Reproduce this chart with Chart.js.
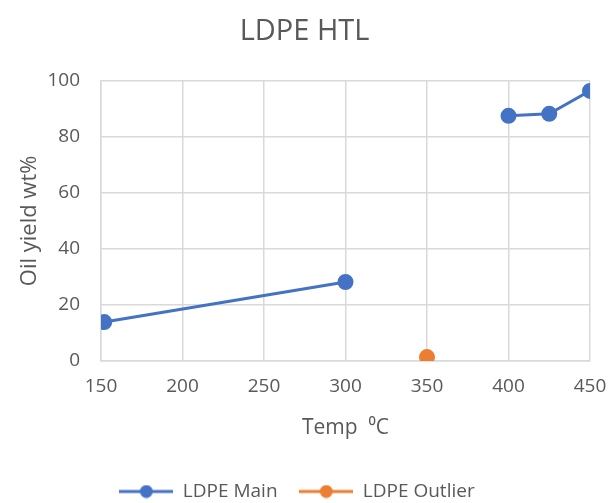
<!DOCTYPE html>
<html>
<head>
<meta charset="utf-8">
<script src="https://cdn.jsdelivr.net/npm/chart.js@4.4.1/dist/chart.umd.min.js"></script>
<style>
    html, body { margin: 0; padding: 0; background: #fff; }
    #wrap { width: 609px; height: 503px; position: relative; }
</style>
</head>
<body>
<div id="wrap"><canvas id="htlChart"></canvas></div>
<script>
// Data
const mainTemp = [152, 300, 350, 400, 425, 450];
const mainYield = [13.9, 28.2, null, 87.5, 88.2, 96.4];
const outlierTemp = [350];
const outlierYield = [1.4];

const xTicks = [150, 200, 250, 300, 350, 400, 450];
const yTicks = [0, 20, 40, 60, 80, 100];

const BLUE = '#4472C4';
const ORANGE = '#ED7D31';
const TEXT = '#595959';
const GRID = '#d9d9d9';
const FONT = "'Open Sans', sans-serif";

// legend swatch: line with a dot in the middle (like Excel)
function legendSwatch(color) {
    const c = document.createElement('canvas');
    c.width = 54; c.height = 14;
    const g = c.getContext('2d');
    g.strokeStyle = color;
    g.lineWidth = 3;
    g.beginPath();
    g.moveTo(0, 7);
    g.lineTo(54, 7);
    g.stroke();
    g.fillStyle = color;
    g.beginPath();
    g.arc(27, 7, 6.5, 0, Math.PI * 2);
    g.fill();
    return c;
}
const swatches = [legendSwatch(BLUE), legendSwatch(ORANGE)];

const toPoints = (xs, ys) => xs.map((x, i) => ({ x: x, y: ys[i] }));

const ctx = document.getElementById('htlChart').getContext('2d');
const htlChart = new Chart(ctx, {
    type: 'line',
    data: {
        datasets: [
            {
                label: 'LDPE Main',
                data: toPoints(mainTemp, mainYield),
                borderColor: BLUE,
                backgroundColor: BLUE,
                borderWidth: 3,
                pointRadius: 6.5,
                pointHoverRadius: 6.5,
                pointStyle: 'circle',
                spanGaps: false
            },
            {
                label: 'LDPE Outlier',
                data: toPoints(outlierTemp, outlierYield),
                borderColor: ORANGE,
                backgroundColor: ORANGE,
                borderWidth: 3,
                pointRadius: 6.5,
                pointHoverRadius: 6.5,
                pointStyle: 'circle'
            }
        ]
    },
    options: {
        responsive: true,
        maintainAspectRatio: false,
        animation: false,
        layout: { padding: { left: 4, right: 19, top: 10, bottom: -8 } },
        plugins: {
            title: {
                display: true,
                text: '  LDPE HTL',
                color: TEXT,
                font: { family: FONT, size: 29, weight: 'normal' },
                padding: { top: 4, bottom: 32 }
            },
            legend: {
                position: 'bottom',
                labels: {
                    usePointStyle: true,
                    pointStyleWidth: 54,
                    boxHeight: 14,
                    color: TEXT,
                    font: { family: FONT, size: 19 },
                    padding: 2,
                    generateLabels: chart => chart.data.datasets.map((ds, i) => ({
                        text: i === 0 ? ds.label + '    ' : ds.label,
                        pointStyle: swatches[i],
                        fontColor: TEXT,
                        datasetIndex: i,
                        hidden: false
                    }))
                }
            },
            tooltip: { enabled: false }
        },
        scales: {
            x: {
                type: 'linear',
                min: 150,
                max: 450,
                afterBuildTicks: axis => { axis.ticks = xTicks.map(v => ({ value: v })); },
                afterFit: axis => { axis.paddingLeft = 0; axis.paddingRight = 0; },
                grid: { color: GRID, lineWidth: 1.5, drawTicks: false },
                border: { color: GRID, width: 1.5 },
                ticks: { color: TEXT, font: { family: FONT, size: 19 }, padding: 14 },
                title: {
                    display: true,
                    text: 'Temp  \u2070C',
                    color: TEXT,
                    font: { family: FONT, size: 21 },
                    padding: { top: 4, bottom: 39 }
                }
            },
            y: {
                min: 0,
                max: 100,
                afterBuildTicks: axis => { axis.ticks = yTicks.map(v => ({ value: v })); },
                afterFit: axis => { axis.width = 97; },
                grid: { color: GRID, lineWidth: 1.5, drawTicks: false },
                border: { color: GRID, width: 1.5 },
                ticks: { color: TEXT, font: { family: FONT, size: 19 }, padding: 21 },
                title: {
                    display: true,
                    text: 'Oil yield wt%',
                    color: TEXT,
                    font: { family: FONT, size: 22 },
                    padding: { top: 13, bottom: 0 }
                }
            }
        }
    }
});
</script>
</body>
</html>
